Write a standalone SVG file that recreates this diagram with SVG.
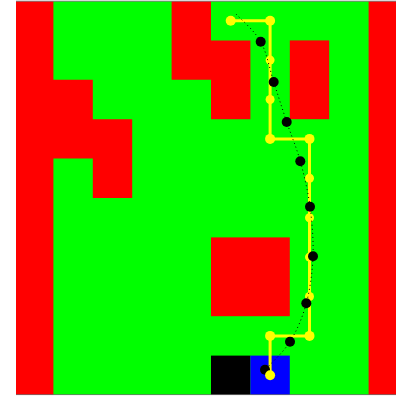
<svg xmlns="http://www.w3.org/2000/svg" width="396" height="396" viewBox="0 0 396 396">
<style>
.free{fill:#00ff00}
.wall{fill:#ff0000}
.wp{fill:#ffff00}
.wps{fill:#ffff00}
.bd{fill:#000000}
.path{fill:none;stroke:#ffff00;stroke-width:3;stroke-linejoin:miter}
.smooth{fill:none;stroke:#000000;stroke-width:1;stroke-dasharray:1 3}
</style>
<rect width="396" height="396" fill="#ffffff"/>
<g id="grid">
<rect class="free" x="16" y="1" width="380" height="394"/>
<polygon class="wall" points="16,1 53.4,1 53.4,79.8 92.8,79.8 92.8,119.2 132.2,119.2 132.2,198 92.8,198 92.8,158.6 53.4,158.6 53.4,395 16,395"/>
<rect class="wall" x="368.6" y="1" width="27.4" height="394"/>
<polygon class="wall" points="171.6,1 211,1 211,40.4 250.4,40.4 250.4,119.2 211,119.2 211,79.8 171.6,79.8"/>
<rect class="wall" x="289.8" y="40.4" width="39.4" height="78.8"/>
<rect class="wall" x="211" y="237.4" width="78.8" height="78.8"/>
<rect id="start-cell" x="211" y="355.6" width="39.4" height="39.4" fill="#000000"/>
<rect id="goal-cell" x="250.4" y="355.6" width="39.4" height="39.4" fill="#0000ff"/>
<line x1="16" y1="1.2" x2="396" y2="1.2" stroke="#808080" stroke-width="1"/>
<line x1="16" y1="394.6" x2="396" y2="394.6" stroke="#707070" stroke-width="0.8"/>
</g>
<g id="connectors">
<polyline class="path" points="230.7,20.7 270.1,20.7 270.1,138.9 309.5,138.9 309.5,335.9 270.1,335.9 270.1,375.3"/>
</g>
<g id="waypoints">
<g id="w0"><circle class="wp" cx="230.7" cy="20.7" r="5"/></g>
<g id="w1"><circle class="wp" cx="270.1" cy="20.7" r="5"/></g>
<g id="w2"><circle class="wps" cx="270.1" cy="60.1" r="4.5"/></g>
<g id="w3"><circle class="wps" cx="270.1" cy="99.5" r="4.5"/></g>
<g id="w4"><circle class="wp" cx="270.1" cy="138.9" r="5"/></g>
<g id="w5"><circle class="wp" cx="309.5" cy="138.9" r="5"/></g>
<g id="w6"><circle class="wps" cx="309.5" cy="178.3" r="4.5"/></g>
<g id="w7"><circle class="wps" cx="309.5" cy="217.7" r="4.5"/></g>
<g id="w8"><circle class="wps" cx="309.5" cy="257.1" r="4.5"/></g>
<g id="w9"><circle class="wps" cx="309.5" cy="296.5" r="4.5"/></g>
<g id="w10"><circle class="wp" cx="309.5" cy="335.9" r="5"/></g>
<g id="w11"><circle class="wp" cx="270.1" cy="335.9" r="5"/></g>
</g>
<g id="samples">
<g id="b0"><circle class="bd" cx="260.7" cy="41.7" r="5"/></g>
<g id="b1"><circle class="bd" cx="273.7" cy="82" r="5"/></g>
<g id="b2"><circle class="bd" cx="286.7" cy="122" r="5"/></g>
<g id="b3"><circle class="bd" cx="300.3" cy="161.3" r="5"/></g>
<g id="b4"><circle class="bd" cx="310" cy="206.7" r="5"/></g>
<g id="b5"><circle class="bd" cx="313" cy="256.3" r="5"/></g>
<g id="b6"><circle class="bd" cx="306.3" cy="303.3" r="5"/></g>
<g id="b7"><circle class="bd" cx="290" cy="341.7" r="5"/></g>
<g id="b8"><circle class="bd" cx="265" cy="369.7" r="5"/></g>
</g>
<g id="w12"><circle class="wp" cx="270.1" cy="375.3" r="5"/></g>
<g id="smooth-connector">
<path class="smooth" d="M236,14 C240.1,18.6 254.4,30.4 260.7,41.7 C267,53 269.4,68.6 273.7,82 C278,95.4 282.3,108.8 286.7,122 C291.1,135.2 296.4,147.2 300.3,161.3 C304.2,175.4 307.9,190.9 310,206.7 C312.1,222.5 313.6,240.2 313,256.3 C312.4,272.4 310.1,289.1 306.3,303.3 C302.5,317.5 296.9,330.6 290,341.7 C283.1,352.8 269.2,365 265,369.7"/>
</g>
</svg>
